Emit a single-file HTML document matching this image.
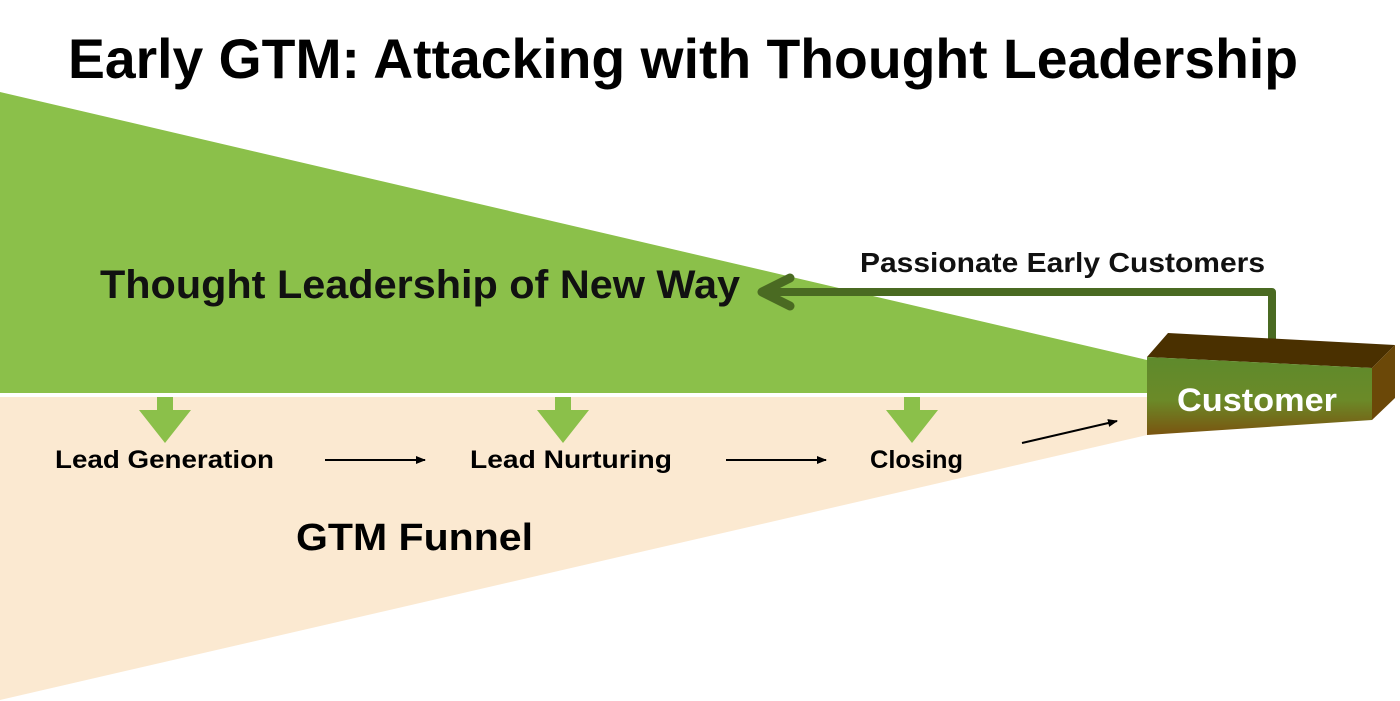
<!DOCTYPE html>
<html><head><style>html,body{margin:0;padding:0;background:#fff;}svg{display:block}</style></head>
<body>
<svg width="1400" height="701" viewBox="0 0 1400 701" xmlns="http://www.w3.org/2000/svg" font-family="'Liberation Sans', sans-serif" font-weight="bold">
<defs>
<linearGradient id="fg" x1="0" y1="0" x2="0" y2="1">
<stop offset="0" stop-color="#5e8a2c"/><stop offset="0.55" stop-color="#6b8a28"/><stop offset="1" stop-color="#7a5410"/>
</linearGradient>
<marker id="ah" markerWidth="10" markerHeight="8" refX="9" refY="4" orient="auto" markerUnits="userSpaceOnUse"><path d="M0,0 L10,4 L0,8 z" fill="#000"/></marker>
</defs>
<rect width="1400" height="701" fill="#fff"/>
<polygon points="0,92 1147,360 1147,393 0,393" fill="#8bc04a"/>
<polygon points="0,397 1147,397 1147,435 0,700" fill="#fbe9d1"/>
<text x="68" y="78" font-size="56" textLength="1230" lengthAdjust="spacingAndGlyphs" fill="#000">Early GTM:  Attacking with Thought Leadership</text>
<text x="100" y="298" font-size="40" textLength="640" lengthAdjust="spacingAndGlyphs" fill="#111">Thought Leadership of New Way</text>
<text x="860" y="272" font-size="28" textLength="405" lengthAdjust="spacingAndGlyphs" fill="#111">Passionate Early Customers</text>
<polyline points="1272,340 1272,292 765,292" fill="none" stroke="#4a6a22" stroke-width="8" stroke-linejoin="round"/>
<polyline points="790,278 762,292 790,306" fill="none" stroke="#4a6a22" stroke-width="9" stroke-linecap="round" stroke-linejoin="round"/>
<g fill="#8bc04a">
<path d="M157,397h16v13h18l-26,33l-26,-33h18z"/>
<path d="M555,397h16v13h18l-26,33l-26,-33h18z"/>
<path d="M904,397h16v13h18l-26,33l-26,-33h18z"/>
</g>
<text x="55" y="468" font-size="25" textLength="219" lengthAdjust="spacingAndGlyphs">Lead Generation</text>
<text x="470" y="468" font-size="25" textLength="202" lengthAdjust="spacingAndGlyphs">Lead Nurturing</text>
<text x="870" y="468" font-size="25" textLength="93" lengthAdjust="spacingAndGlyphs">Closing</text>
<text x="296" y="550" font-size="38" textLength="237" lengthAdjust="spacingAndGlyphs">GTM Funnel</text>
<g stroke="#000" stroke-width="2" marker-end="url(#ah)">
<line x1="325" y1="460" x2="425" y2="460"/>
<line x1="726" y1="460" x2="826" y2="460"/>
<line x1="1022" y1="443" x2="1117" y2="421"/>
</g>
<polygon points="1147,357 1168,333 1395,345 1372,368" fill="#4a3000"/>
<polygon points="1372,368 1395,345 1395,398 1372,420" fill="#6b4808"/>
<polygon points="1147,357 1372,368 1372,420 1147,435" fill="url(#fg)"/>
<text x="1177" y="411" font-size="32" textLength="160" lengthAdjust="spacingAndGlyphs" fill="#fff">Customer</text>
</svg>
</body></html>
